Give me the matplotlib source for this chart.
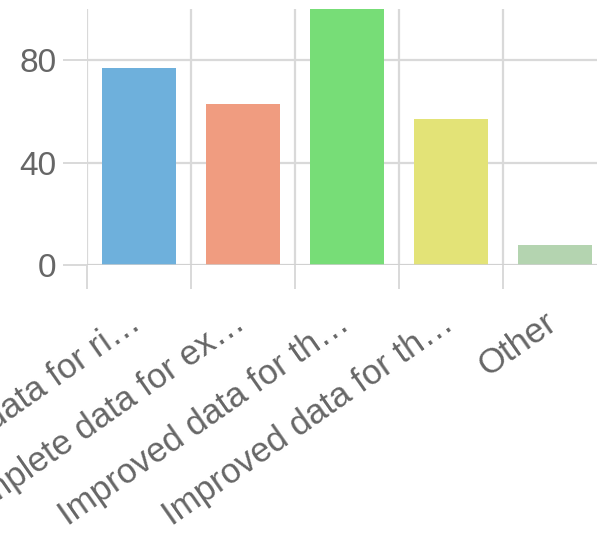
import matplotlib
matplotlib.use("Agg")
import matplotlib.pyplot as plt
import matplotlib.transforms as mtransforms

CATEGORIES = [
    "Improved data for ri…",
    "Complete data for ex…",
    "Improved data for th…",
    "Improved data for th…",
    "Other",
]
VALUES = [77, 63, 100, 57, 8]
COLORS = ["#6EB0DC", "#F09C80", "#77DD77", "#E3E377", "#B4D4B0"]
Y_TICKS = [0, 40, 80]

GRID = "#D9D9D9"
TEXT = "#666666"

plt.rcParams["font.family"] = ["Liberation Sans", "DejaVu Sans"]

fig = plt.figure(figsize=(5.97, 5.44), dpi=100)
# axes deliberately run past the right edge, like the cropped reference
ax = fig.add_axes([87 / 597, 279 / 544, 520 / 597, 256 / 544])

x = list(range(len(CATEGORIES)))
ax.bar(x, VALUES, width=0.72, color=COLORS, zorder=3)

ax.set_xlim(-0.5, len(CATEGORIES) - 0.5)
ax.set_ylim(0, 100)
ax.set_yticks(Y_TICKS)
ax.set_xticks([i - 0.5 for i in range(len(CATEGORIES) + 1)], minor=False)
ax.set_xticklabels([])
ax.set_xticks(x, minor=True)
ax.set_xticklabels(CATEGORIES, minor=True, rotation=35, ha="right",
                   va="baseline", rotation_mode="anchor")

ax.grid(True, which="major", color=GRID, linewidth=1.6, zorder=0)
for s in ax.spines.values():
    s.set_visible(False)
ax.axhline(0, color="#CFCFCF", linewidth=1.8, zorder=4)

ax.tick_params(axis="both", which="major", length=17, width=1.4, color=GRID,
               labelcolor=TEXT, labelsize=24, pad=5)
ax.tick_params(axis="x", which="minor", length=0, labelcolor=TEXT,
               labelsize=25, pad=45)

# nudge the rotated labels a few pixels right
shift = mtransforms.ScaledTranslation(4 / 100, 0, fig.dpi_scale_trans)
for t in ax.xaxis.get_minor_ticks():
    t.label1.set_transform(t.label1.get_transform() + shift)

fig.savefig("out.png", dpi=100)
